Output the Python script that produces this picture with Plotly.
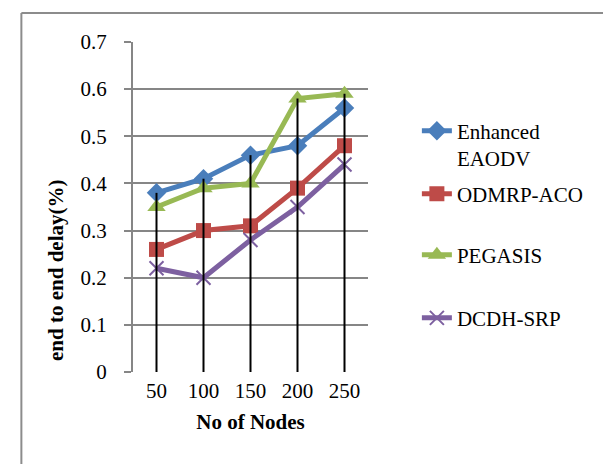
import numpy as np
import plotly.graph_objects as go

categories = ["50", "100", "150", "200", "250"]
enhanced_eaodv = [0.38, 0.41, 0.46, 0.48, 0.56]
odmrp_aco = [0.26, 0.30, 0.31, 0.39, 0.48]
pegasis = [0.35, 0.39, 0.40, 0.58, 0.59]
dcdh_srp = [0.22, 0.20, 0.28, 0.35, 0.44]

series = [
    ("Enhanced<br>EAODV", enhanced_eaodv, "#4A7EBB", "diamond", 15),
    ("ODMRP-ACO", odmrp_aco, "#BE4B48", "square", 15),
    ("PEGASIS", pegasis, "#98B954", "triangle-up", 16),
    ("DCDH-SRP", dcdh_srp, "#7D60A0", "x-thin-open", 14),
]
legend_ids = ["legend", "legend2", "legend3", "legend4"]
legend_y = [0.689, 0.539, 0.354, 0.163]

FONT = "Liberation Serif"
FS = 21
fig = go.Figure()
for (name, vals, col, sym, sz), lid in zip(series, legend_ids):
    mk = dict(symbol=sym, size=sz, color=col)
    if sym == "x-thin-open":
        mk["line"] = dict(color=col, width=2)
    fig.add_trace(go.Scatter(
        x=categories, y=vals, name=name, mode="lines+markers",
        line=dict(color=col, width=5), marker=mk, legend=lid,
    ))

# drop lines from the highest value at each category
tops = np.max(np.array([enhanced_eaodv, odmrp_aco, pegasis, dcdh_srp]), axis=0)
dx, dy = [], []
for c, t in zip(categories, tops):
    dx += [c, c, None]
    dy += [0, float(t), None]
fig.add_trace(go.Scatter(x=dx, y=dy, mode="lines", line=dict(color="black", width=2),
                         showlegend=False, hoverinfo="skip"))

leg_common = dict(x=1.208, xanchor="left", yanchor="middle", valign="top",
                  font=dict(family=FONT, size=FS, color="black"),
                  bgcolor="rgba(0,0,0,0)")
layout_legends = {lid: dict(y=ly, **leg_common) for lid, ly in zip(legend_ids, legend_y)}

fig.update_layout(
    width=611, height=464,
    margin=dict(l=125, r=251, t=34, b=100),
    paper_bgcolor="white", plot_bgcolor="white",
    font=dict(family=FONT, size=FS, color="black"),
    showlegend=True,
    **layout_legends,
    shapes=[
        dict(type="line", xref="paper", yref="paper", x0=-0.475, x1=2.0, y0=1.088, y1=1.088,
             line=dict(color="#8c8c8c", width=2)),
        dict(type="line", xref="paper", yref="paper", x0=-0.475, x1=-0.475, y0=1.088, y1=-0.4,
             line=dict(color="#8c8c8c", width=2)),
    ],
    annotations=[
        dict(text="<b>end to end delay(%)</b>", xref="paper", yref="paper",
             x=-0.328, y=0.309, xanchor="center", yanchor="middle", textangle=-90,
             showarrow=False, font=dict(family=FONT, size=FS, color="black")),
    ],
)
fig.update_xaxes(
    type="category", range=[-0.5, 4.5], showgrid=False, showline=False,
    ticks="", tickfont=dict(family=FONT, size=FS), ticklabelstandoff=4,
    title=dict(text="<b>No of Nodes</b>", font=dict(family=FONT, size=FS), standoff=12),
    zeroline=False,
)
fig.update_yaxes(
    range=[0, 0.7], dtick=0.1, showgrid=True, gridcolor="#868686", gridwidth=2,
    showline=True, linecolor="#868686", linewidth=2,
    ticks="outside", ticklen=7, tickcolor="#868686", tickwidth=2,
    tickfont=dict(family=FONT, size=FS), zeroline=False, ticklabelstandoff=13,
)

fig.write_html("out.html")
